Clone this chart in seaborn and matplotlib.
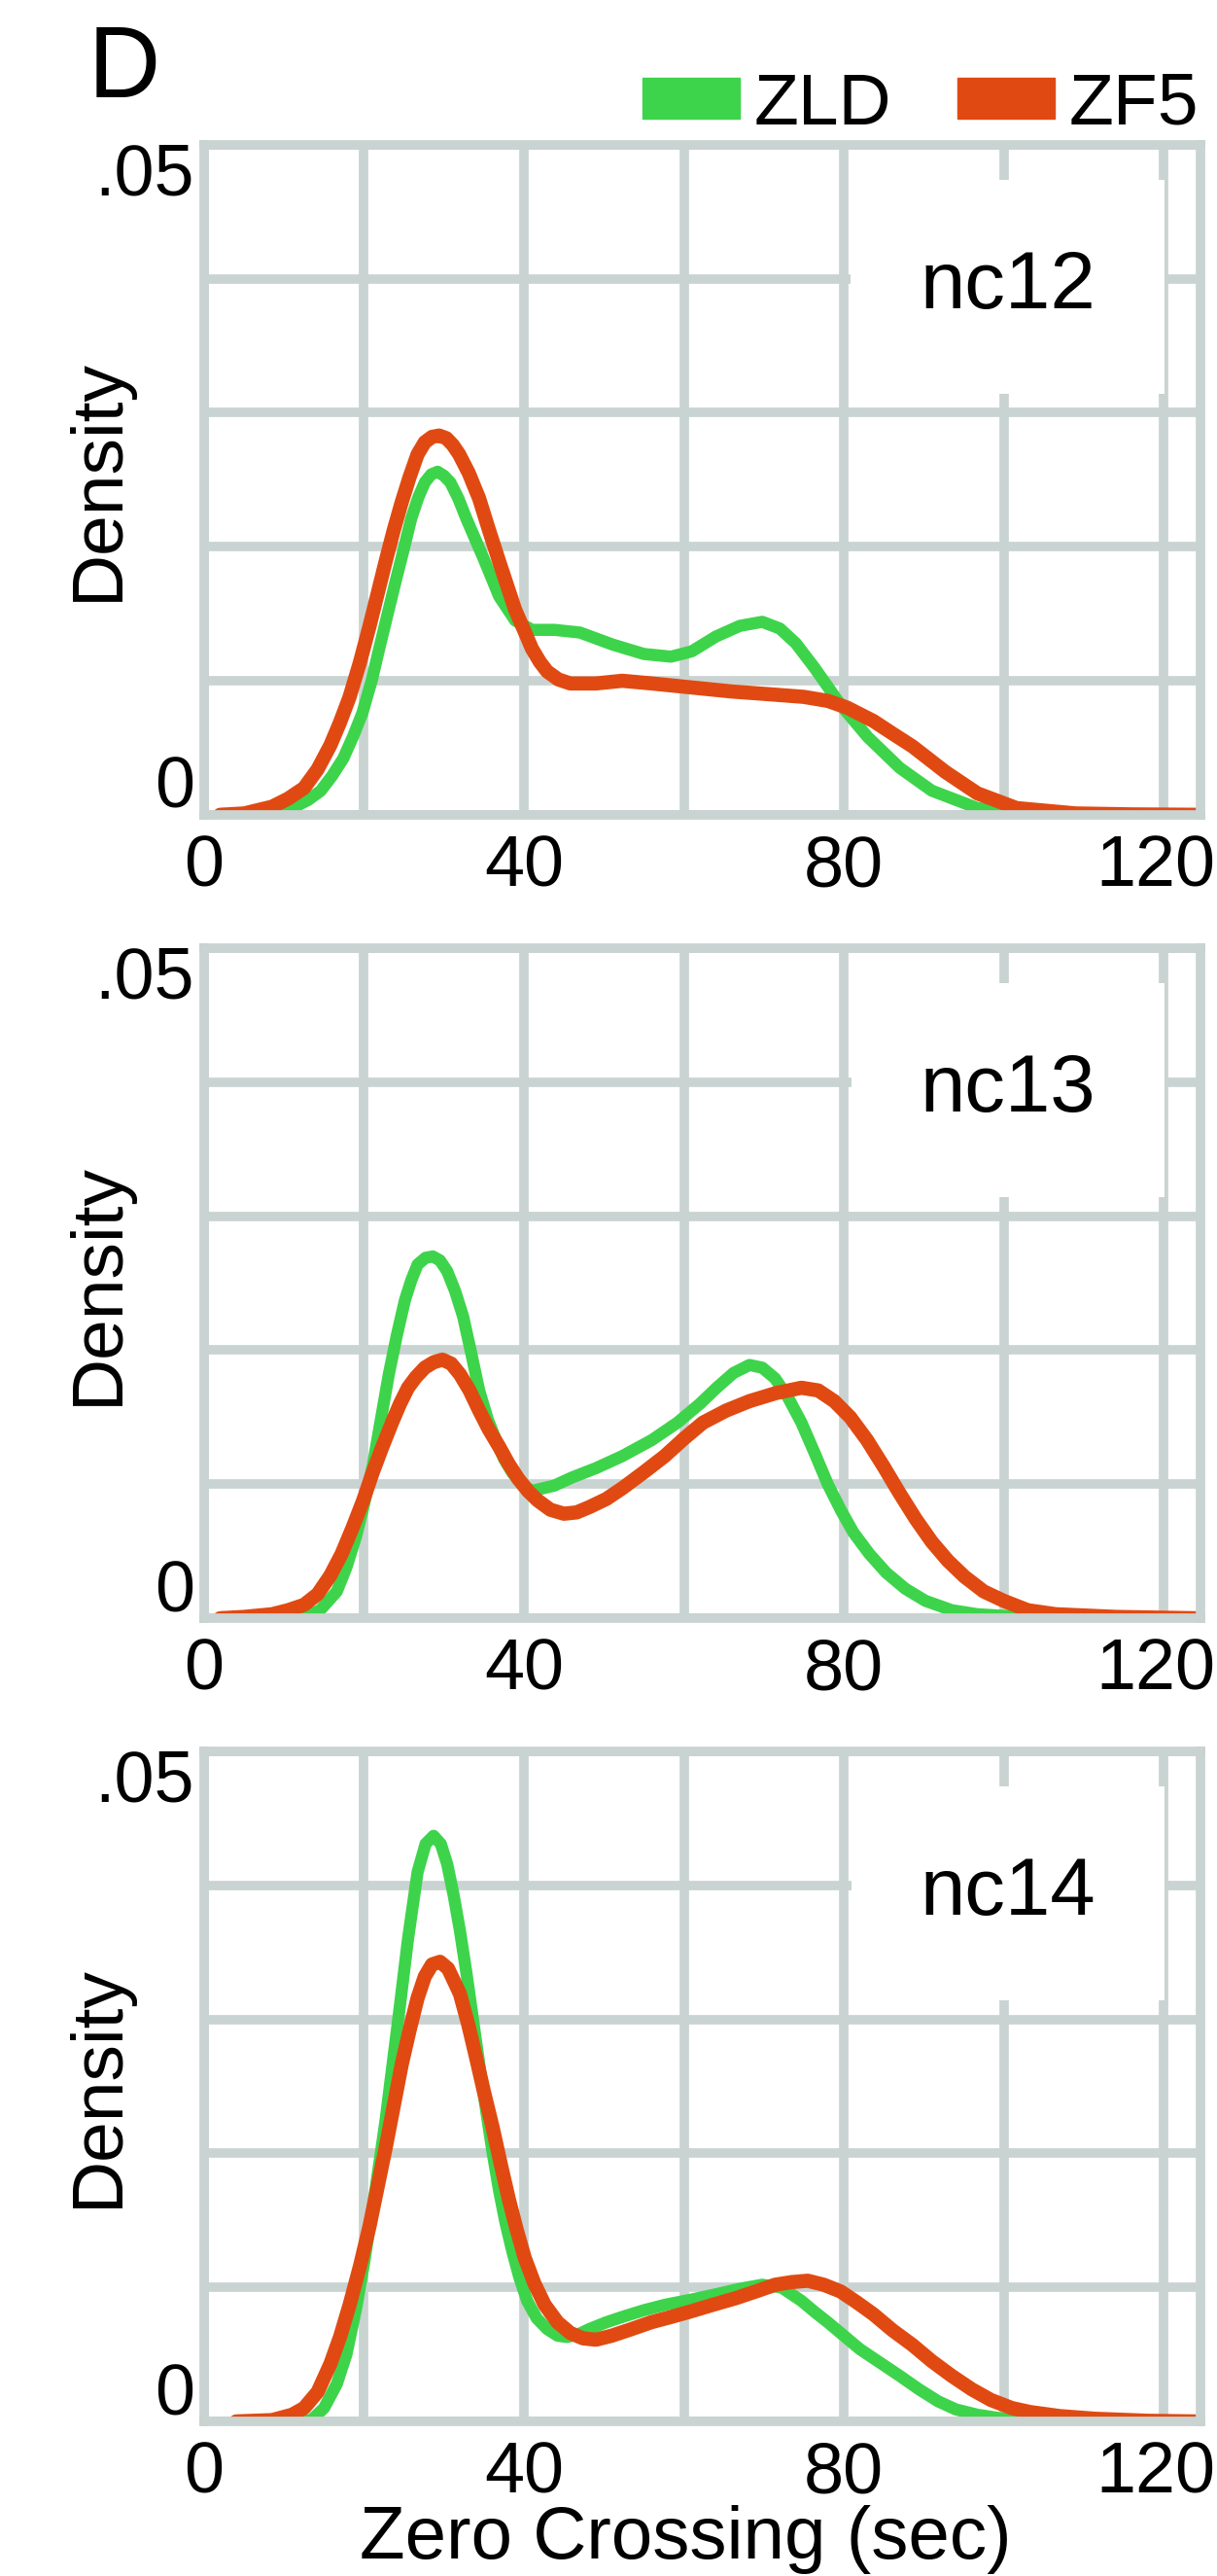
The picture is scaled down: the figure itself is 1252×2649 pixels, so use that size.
import pandas as pd
import matplotlib.pyplot as plt
from matplotlib.patches import Patch
import seaborn as sns

# density curves (x in sec, y = density)
nc12_zld_x = [9, 11, 13, 14.6, 16, 17.4, 18.6, 19.8, 21, 21.9, 23, 23.9, 25, 25.9, 26.8, 27.6, 28.4, 29.2, 30, 30.8,
              31.8, 32.8, 34.9, 36.9, 38.9, 41, 43.8, 47, 51.1, 55, 58.4, 61, 64, 67, 69.8, 72, 74, 76.3, 79.6, 83,
              87, 91, 96.7, 103, 110, 118]
nc12_zld_y = [0.0001, 0.0005, 0.0011, 0.0018, 0.0029, 0.0042, 0.0058, 0.0076, 0.0101, 0.0124, 0.0151, 0.0173, 0.0199,
              0.0221, 0.0237, 0.0248, 0.0254, 0.0256, 0.0253, 0.0248, 0.0236, 0.0221, 0.0192, 0.0163, 0.0145, 0.0138,
              0.0138, 0.0136, 0.0127, 0.0120, 0.0118, 0.0122, 0.0133, 0.0141, 0.0144, 0.0139, 0.0128, 0.0110, 0.0082,
              0.0058, 0.0035, 0.0018, 0.0005, 0.0001, 0, 0]
nc12_zf5_x = [2, 5, 8.5, 10.5, 12.5, 14.2, 15.8, 17, 18.2, 19.5, 20.7, 21.7, 22.7, 23.7, 24.7, 25.7, 26.7, 27.6, 28.5,
              29.4, 30.3, 31.1, 31.9, 33.1, 34.4, 35.6, 36.9, 37.9, 38.9, 40, 41, 42, 42.9, 44.3, 45.8, 49, 52.3, 56,
              61, 66, 70.6, 75, 78, 80.4, 83.7, 86, 88.6, 92.7, 96.7, 101.6, 109, 116, 124]
nc12_zf5_y = [0, 0.0001, 0.0006, 0.0012, 0.0020, 0.0034, 0.0052, 0.0069, 0.0088, 0.0114, 0.0141, 0.0165, 0.0189,
              0.0212, 0.0233, 0.0252, 0.0269, 0.0278, 0.0282, 0.0283, 0.0281, 0.0276, 0.0269, 0.0255, 0.0236, 0.0213,
              0.0189, 0.0171, 0.0153, 0.0138, 0.0124, 0.0114, 0.0107, 0.0101, 0.0098, 0.0098, 0.0100, 0.0098, 0.0095,
              0.0092, 0.0090, 0.0088, 0.0085, 0.0080, 0.0070, 0.0061, 0.0051, 0.0032, 0.0016, 0.0005, 0.0001,
              0.00003, 0]

nc13_zld_x = [10, 12.5, 14.5, 16.6, 17.8, 19, 20, 21.1, 22.1, 23.1, 24.1, 25.1, 25.9, 26.7, 27.7, 28.6, 29.5, 30.4,
              31.4, 32.4, 33.4, 34.4, 35.5, 36.5, 37.5, 38.5, 39.7, 41, 42.4, 43.8, 46, 49, 52.3, 56, 59.2, 62, 64.1,
              66.2, 68.2, 69.8, 71.4, 73, 74.7, 76.3, 78, 79.6, 81.2, 83.2, 85.3, 87.7, 90.2, 93.5, 96.7, 102, 110, 118]
nc13_zld_y = [0, 0.0001, 0.0006, 0.0020, 0.0038, 0.0061, 0.0085, 0.0114, 0.0148, 0.0182, 0.0211, 0.0237, 0.0252,
              0.0264, 0.0269, 0.0270, 0.0267, 0.0259, 0.0244, 0.0225, 0.0198, 0.0170, 0.0148, 0.0133, 0.0119, 0.0109,
              0.0100, 0.0095, 0.0097, 0.0099, 0.0105, 0.0112, 0.0121, 0.0133, 0.0146, 0.0160, 0.0172, 0.0183, 0.0189,
              0.0187, 0.0179, 0.0165, 0.0146, 0.0124, 0.0100, 0.0081, 0.0064, 0.0048, 0.0034, 0.0022, 0.0013, 0.0006,
              0.0003, 0.0001, 0, 0]
nc13_zf5_x = [2, 5, 8.5, 10.5, 12.5, 14.2, 15.8, 17.2, 18.6, 19.9, 21.1, 22.3, 23.5, 24.5, 25.5, 26.5, 27.6, 28.7,
              29.8, 30.9, 32, 33.2, 34.4, 35.6, 36.9, 38.1, 39.3, 40.5, 41.7, 43.3, 45, 46.6, 48.2, 50.3, 52.3, 55,
              57.6, 60, 62.4, 65.3, 68.2, 71.5, 74.7, 76.8, 78.8, 80.8, 82.9, 85, 87, 89, 91, 93, 95.1, 97.5, 100,
              103, 106.5, 114, 124]
nc13_zf5_y = [0, 0.0001, 0.0003, 0.0006, 0.0010, 0.0018, 0.0032, 0.0048, 0.0068, 0.0088, 0.0109, 0.0128, 0.0146,
              0.0160, 0.0172, 0.0180, 0.0187, 0.0191, 0.0193, 0.0190, 0.0182, 0.0170, 0.0155, 0.0141, 0.0128, 0.0115,
              0.0104, 0.0095, 0.0088, 0.0081, 0.0078, 0.0079, 0.0083, 0.0089, 0.0097, 0.0109, 0.0121, 0.0134, 0.0146,
              0.0155, 0.0162, 0.0168, 0.0172, 0.0170, 0.0162, 0.0150, 0.0133, 0.0113, 0.0093, 0.0074, 0.0057, 0.0043,
              0.0031, 0.0020, 0.0013, 0.0006, 0.0003, 0.0001, 0]

nc14_zld_x = [10, 13.4, 15, 16.6, 17.8, 19, 20, 21.1, 21.9, 22.7, 23.5, 24.3, 25.5, 26.7, 27.7, 28.7, 29.6, 30.4,
              31.2, 32, 32.8, 33.6, 34.5, 35.3, 36.1, 36.9, 37.7, 38.5, 39.4, 40.4, 41.6, 42.9, 44.2, 45.4, 46.8, 48.2,
              50.3, 52.3, 55, 57.6, 61, 64.1, 67, 69.8, 72.2, 74.7, 76.3, 78, 80, 82, 84.5, 87, 89.4, 91.8, 94, 96.7,
              100, 103, 110, 118]
nc14_zld_y = [0, 0.0001, 0.0010, 0.0028, 0.0050, 0.0084, 0.0118, 0.0160, 0.0192, 0.0225, 0.0263, 0.0301, 0.0360,
              0.0410, 0.0431, 0.0437, 0.0431, 0.0416, 0.0393, 0.0366, 0.0335, 0.0301, 0.0263, 0.0231, 0.0200, 0.0172,
              0.0148, 0.0128, 0.0108, 0.0090, 0.0077, 0.0069, 0.0064, 0.0063, 0.0065, 0.0069, 0.0074, 0.0078, 0.0083,
              0.0087, 0.0091, 0.0095, 0.0099, 0.0102, 0.0100, 0.0090, 0.0082, 0.0074, 0.0064, 0.0054, 0.0044, 0.0034,
              0.0024, 0.0015, 0.0009, 0.0005, 0.0002, 0.0001, 0, 0]
nc14_zf5_x = [4, 8.5, 11, 12.5, 14.2, 15.8, 17, 18.2, 19.5, 20.7, 21.7, 22.7, 23.7, 24.7, 25.7, 26.7, 27.6, 28.5,
              29.5, 30.5, 31.3, 32, 33, 34, 35, 36.1, 37.1, 38.1, 39.1, 40.1, 41.3, 42.6, 44.2, 45.8, 47.4, 49, 51,
              53.5, 55.9, 58.4, 60.8, 63.6, 66.5, 69, 71.4, 73.5, 75.5, 77.5, 79.6, 81.6, 83.7, 86.1, 88.6, 91, 93.5,
              96, 98.4, 101, 103.3, 107, 111.4, 118, 124]
nc14_zf5_y = [0, 0.0001, 0.0005, 0.0010, 0.0022, 0.0043, 0.0063, 0.0087, 0.0116, 0.0146, 0.0175, 0.0204, 0.0235,
              0.0266, 0.0292, 0.0316, 0.0332, 0.0341, 0.0343, 0.0338, 0.0328, 0.0319, 0.0297, 0.0272, 0.0246, 0.0219,
              0.0192, 0.0166, 0.0143, 0.0122, 0.0103, 0.0087, 0.0074, 0.0066, 0.0062, 0.0061, 0.0064, 0.0069, 0.0074,
              0.0078, 0.0082, 0.0087, 0.0092, 0.0097, 0.0102, 0.0104, 0.0105, 0.0102, 0.0097, 0.0089, 0.0080, 0.0068,
              0.0057, 0.0045, 0.0034, 0.0024, 0.0016, 0.0010, 0.0007, 0.0004, 0.0002, 0.00005, 0]

stages = ['nc12', 'nc13', 'nc14']
proteins = ['ZLD', 'ZF5']
x_ticks = [0, 20, 40, 60, 80, 100, 120]
x_ticklabels = ['0', '', '40', '', '80', '', '120']
y_ticks = [0, 0.01, 0.02, 0.03, 0.04, 0.05]

curves = {
    ('nc12', 'ZLD'): (nc12_zld_x, nc12_zld_y),
    ('nc12', 'ZF5'): (nc12_zf5_x, nc12_zf5_y),
    ('nc13', 'ZLD'): (nc13_zld_x, nc13_zld_y),
    ('nc13', 'ZF5'): (nc13_zf5_x, nc13_zf5_y),
    ('nc14', 'ZLD'): (nc14_zld_x, nc14_zld_y),
    ('nc14', 'ZF5'): (nc14_zf5_x, nc14_zf5_y),
}
rows = []
for (stage, prot), (xs, ys) in curves.items():
    rows += [{'stage': stage, 'protein': prot, 't': a, 'density': b} for a, b in zip(xs, ys)]
df = pd.DataFrame(rows)

colors = {'ZLD': '#3dd44b', 'ZF5': '#e04a12'}
widths = {'ZLD': 9, 'ZF5': 10.5}
grid_c = '#c9d3d1'

sns.set_theme(style='whitegrid')
plt.rcParams['font.family'] = ['Liberation Sans', 'DejaVu Sans']
plt.rcParams['text.color'] = 'black'
plt.rcParams['axes.labelcolor'] = 'black'

fig = plt.figure(figsize=(12.52, 26.49), dpi=100)
bottoms = [0.6837, 0.3718, 0.0600]

for stage, b in zip(stages, bottoms):
    ax = fig.add_axes([0.1677, b, 0.8187, 0.2601])
    ax.set_axisbelow(True)
    for prot in proteins:
        sub = df[(df.stage == stage) & (df.protein == prot)]
        sns.lineplot(data=sub, x='t', y='density', color=colors[prot], linewidth=widths[prot],
                     estimator=None, sort=False, ax=ax,
                     solid_joinstyle='round', solid_capstyle='round')
    ax.set_xlim(0, 124.6)
    ax.set_ylim(0, 0.05)
    ax.set_xticks(x_ticks)
    ax.set_yticks(y_ticks)
    ax.tick_params(length=0, labelbottom=False, labelleft=False)
    ax.grid(True, color=grid_c, lw=7)
    for sp in ax.spines.values():
        sp.set_visible(True)
        sp.set_color(grid_c)
        sp.set_linewidth(7)

    # tick labels placed like the original (inside the frame ends, last one pulled in)
    for t, lab in zip(x_ticks, x_ticklabels):
        if lab:
            ax.annotate(lab, xy=(t, 0), xycoords=('data', 'axes fraction'),
                        xytext=(-6 if t == 120 else 0, -14), textcoords='offset points',
                        ha='center', va='top', fontsize=53)
    ax.annotate('.05', xy=(0, 0.05), xycoords=('axes fraction', 'data'),
                xytext=(-7, -37), textcoords='offset points',
                ha='right', va='baseline', fontsize=53)
    ax.annotate('0', xy=(0, 0), xycoords=('axes fraction', 'data'),
                xytext=(-7, 5), textcoords='offset points',
                ha='right', va='baseline', fontsize=53)

    ax.set_ylabel('Density', fontsize=54)
    ax.yaxis.set_label_coords(-0.072, 0.5)
    ax.set_xlabel('')
    ax.text(100.5, 0.0378, stage, ha='center', va='baseline', fontsize=60, zorder=3,
            bbox=dict(boxstyle='square,pad=0.85', fc='white', ec='none'))

ax.set_xlabel('Zero Crossing (sec)', fontsize=55)
ax.xaxis.set_label_coords(0.483, -0.125)

handles = [Patch(color=colors[p], label=p) for p in proteins]
fig.legend(handles=handles, loc='center right', bbox_to_anchor=(0.985, 0.9592), ncol=2,
           frameon=False, fontsize=54, handlelength=1.33, handleheight=0.47,
           handletextpad=0.2, columnspacing=0.9, borderpad=0, borderaxespad=0)

fig.text(0.072, 0.9622, 'D', fontsize=74, ha='left', va='baseline')

plt.savefig('out.png', dpi=100)
